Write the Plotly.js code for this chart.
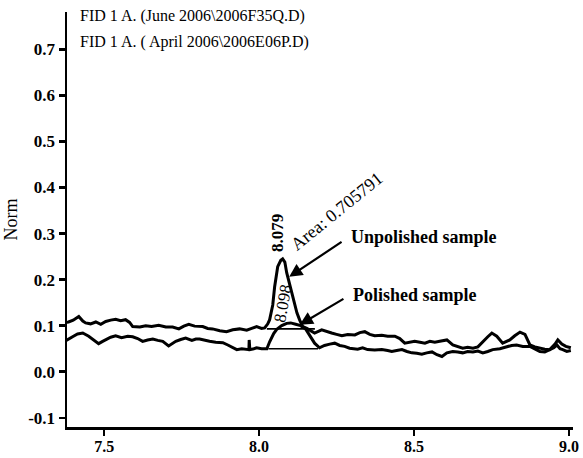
<!DOCTYPE html>
<html>
<head>
<meta charset="utf-8">
<script src="https://cdn.plot.ly/plotly-3.0.1.min.js"></script>
<style>html,body{margin:0;padding:0;background:#fff;}#chart{width:583px;height:458px;}</style>
</head>
<body>
<div id="chart"></div>
<script>
// Unpolished sample (June 2006) trace
const unpolishedX = [7.376,7.385,7.40,7.418,7.431,7.44,7.456,7.473,7.489,7.505,7.521,7.537,7.553,7.569,7.582,7.592,7.615,7.634,7.653,7.676,7.699,7.721,7.741,7.757,7.773,7.792,7.818,7.834,7.85,7.873,7.895,7.915,7.937,7.96,7.976,7.992,8.008,8.018,8.028,8.034,8.044,8.05,8.06,8.07,8.076,8.083,8.089,8.105,8.122,8.131,8.141,8.154,8.163,8.179,8.202,8.218,8.234,8.25,8.267,8.286,8.309,8.325,8.341,8.357,8.373,8.396,8.415,8.438,8.454,8.47,8.486,8.502,8.519,8.535,8.551,8.567,8.583,8.606,8.625,8.641,8.657,8.673,8.69,8.706,8.722,8.738,8.751,8.767,8.786,8.809,8.825,8.842,8.858,8.874,8.89,8.906,8.922,8.938,8.955,8.964,8.977,8.99,9.006];
const unpolishedY = [0.107,0.108,0.112,0.120,0.110,0.106,0.104,0.108,0.103,0.109,0.112,0.114,0.111,0.113,0.107,0.098,0.097,0.100,0.098,0.101,0.097,0.097,0.093,0.099,0.103,0.099,0.098,0.094,0.093,0.089,0.087,0.091,0.093,0.090,0.094,0.098,0.094,0.095,0.104,0.113,0.145,0.184,0.228,0.242,0.245,0.238,0.215,0.171,0.128,0.112,0.098,0.094,0.091,0.084,0.091,0.087,0.084,0.081,0.078,0.081,0.080,0.085,0.087,0.081,0.078,0.079,0.077,0.077,0.072,0.062,0.064,0.066,0.064,0.062,0.066,0.064,0.066,0.069,0.058,0.055,0.051,0.053,0.051,0.054,0.066,0.076,0.084,0.077,0.062,0.069,0.078,0.086,0.081,0.058,0.054,0.051,0.049,0.048,0.060,0.069,0.060,0.055,0.052];

// Polished sample (April 2006) trace
const polishedX = [7.376,7.382,7.398,7.414,7.431,7.45,7.466,7.482,7.495,7.505,7.521,7.537,7.556,7.576,7.592,7.608,7.624,7.64,7.657,7.673,7.689,7.708,7.731,7.747,7.763,7.783,7.796,7.808,7.824,7.84,7.86,7.883,7.899,7.915,7.928,7.944,7.96,7.967,7.968,7.97,7.983,7.992,8.008,8.025,8.034,8.047,8.057,8.073,8.089,8.102,8.118,8.134,8.15,8.163,8.179,8.195,8.211,8.228,8.244,8.26,8.276,8.292,8.318,8.334,8.35,8.373,8.396,8.415,8.428,8.444,8.461,8.477,8.493,8.509,8.525,8.541,8.558,8.574,8.59,8.606,8.625,8.641,8.657,8.673,8.69,8.706,8.722,8.738,8.754,8.777,8.799,8.815,8.831,8.851,8.874,8.89,8.906,8.922,8.938,8.951,8.961,8.971,8.98,8.993,9.006];
const polishedY = [0.067,0.069,0.076,0.082,0.084,0.077,0.068,0.061,0.066,0.069,0.075,0.078,0.074,0.077,0.076,0.072,0.066,0.069,0.071,0.068,0.066,0.056,0.066,0.070,0.073,0.068,0.071,0.071,0.068,0.066,0.064,0.063,0.058,0.052,0.048,0.050,0.048,0.048,0.069,0.048,0.050,0.052,0.050,0.050,0.065,0.083,0.092,0.100,0.105,0.106,0.103,0.100,0.093,0.080,0.062,0.052,0.057,0.060,0.062,0.057,0.055,0.051,0.049,0.052,0.048,0.047,0.048,0.046,0.044,0.046,0.048,0.044,0.041,0.040,0.038,0.041,0.043,0.037,0.033,0.041,0.044,0.043,0.041,0.044,0.043,0.045,0.041,0.044,0.048,0.050,0.055,0.057,0.058,0.055,0.055,0.050,0.044,0.043,0.048,0.052,0.058,0.050,0.048,0.044,0.046];

// Integration baselines
const baseUnpolishedX = [8.025, 8.18];
const baseUnpolishedY = [0.093, 0.093];
const basePolishedX = [8.03, 8.19];
const basePolishedY = [0.050, 0.050];

const xTicks = [7.5, 8.0, 8.5, 9.0];
const xTickLabels = ['7.5', '8.0', '8.5', '9.0'];
const yTicks = [-0.1, 0.0, 0.1, 0.2, 0.3, 0.4, 0.5, 0.6, 0.7];
const yTickLabels = ['-0.1', '0.0', '0.1', '0.2', '0.3', '0.4', '0.5', '0.6', '0.7'];

const headerLines = ['FID 1 A. (June 2006\\2006F35Q.D)', 'FID 1 A. ( April 2006\\2006E06P.D)'];
const peakUnpolished = {rt: '8.079', area: 'Area: 0.705791', label: 'Unpolished sample'};
const peakPolished = {rt: '8.098', label: 'Polished sample'};

const serif = 'Liberation Serif, Times New Roman, serif';
const lineStyle = {color: '#000', width: 3};

const traces = [
  {x: unpolishedX, y: unpolishedY, mode: 'lines', line: lineStyle, hoverinfo: 'none'},
  {x: polishedX, y: polishedY, mode: 'lines', line: lineStyle, hoverinfo: 'none'},
  {x: baseUnpolishedX, y: baseUnpolishedY, mode: 'lines', line: {color: '#000', width: 1.6}, hoverinfo: 'none'},
  {x: basePolishedX, y: basePolishedY, mode: 'lines', line: {color: '#000', width: 1.6}, hoverinfo: 'none'}
];

const annotations = [
  {xref: 'paper', yref: 'paper', x: 0.021, y: 0.990, xanchor: 'left', yanchor: 'middle', text: headerLines[0], showarrow: false, font: {family: serif, size: 16, color: '#000'}},
  {xref: 'paper', yref: 'paper', x: 0.021, y: 0.928, xanchor: 'left', yanchor: 'middle', text: headerLines[1], showarrow: false, font: {family: serif, size: 16, color: '#000'}},
  {x: 8.059, y: 0.302, text: '<b>' + peakUnpolished.rt + '</b>', textangle: -90, showarrow: false, font: {family: serif, size: 17, color: '#000'}},
  {x: 8.252, y: 0.348, text: peakUnpolished.area, textangle: -39, showarrow: false, font: {family: serif, size: 18, color: '#000'}},
  {x: 8.077, y: 0.148, text: peakPolished.rt, textangle: -80, showarrow: false, font: {family: serif, size: 17, color: '#000'}},
  {x: 8.29, y: 0.292, xanchor: 'left', yanchor: 'middle', text: '<b>' + peakUnpolished.label + '</b>', showarrow: false, font: {family: serif, size: 18, color: '#000'}},
  {x: 8.295, y: 0.166, xanchor: 'left', yanchor: 'middle', text: '<b>' + peakPolished.label + '</b>', showarrow: false, font: {family: serif, size: 18, color: '#000'}},
  {x: 8.097, y: 0.206, ax: 8.271, ay: 0.284, axref: 'x', ayref: 'y', text: '', showarrow: true, arrowhead: 2, arrowsize: 1.2, arrowwidth: 2.2, arrowcolor: '#000'},
  {x: 8.131, y: 0.102, ax: 8.277, ay: 0.160, axref: 'x', ayref: 'y', text: '', showarrow: true, arrowhead: 2, arrowsize: 1.2, arrowwidth: 2.2, arrowcolor: '#000'}
];

const layout = {
  width: 583, height: 458,
  margin: {l: 67, r: 10, t: 12, b: 31},
  paper_bgcolor: '#fff', plot_bgcolor: '#fff',
  showlegend: false,
  font: {family: serif, color: '#000'},
  xaxis: {
    range: [7.38, 9.013], showgrid: false, zeroline: false,
    showline: true, linecolor: '#000', linewidth: 2.5,
    ticks: 'outside', ticklen: 6, tickwidth: 2.5, tickcolor: '#000',
    ticklabelstandoff: -3,
    tickvals: xTicks, ticktext: xTickLabels.map(t => '<b>' + t + '</b>'),
    tickfont: {family: serif, size: 16, color: '#000'}
  },
  yaxis: {
    range: [-0.12, 0.781], showgrid: false, zeroline: false,
    showline: true, linecolor: '#000', linewidth: 2.5,
    ticks: 'outside', ticklen: 6, tickwidth: 2.5, tickcolor: '#000',
    tickvals: yTicks, ticktext: yTickLabels.map(t => '<b>' + t + '</b>'),
    tickfont: {family: serif, size: 17, color: '#000'},
    title: {text: 'Norm', font: {family: serif, size: 18, color: '#000'}, standoff: 6}
  },
  annotations: annotations
};

Plotly.newPlot('chart', traces, layout, {displayModeBar: false, staticPlot: true});
</script>
</body>
</html>
